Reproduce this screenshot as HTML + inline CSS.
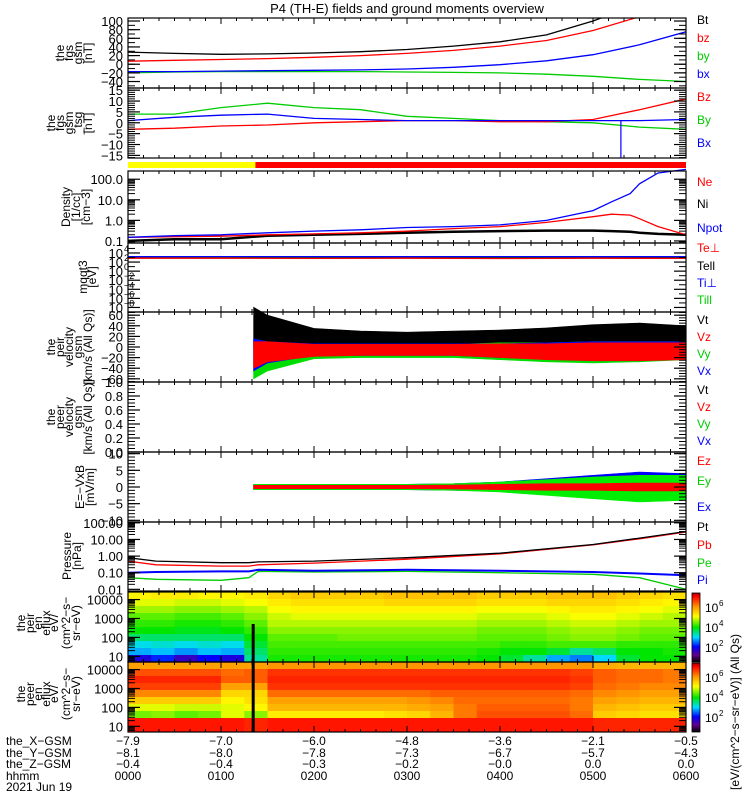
<!DOCTYPE html>
<html><head><meta charset="utf-8">
<style>
html,body{margin:0;padding:0;background:#fff;}
svg{display:block;font-family:"Liberation Sans",sans-serif;}
</style></head>
<body>
<svg id="chart" width="750" height="800" viewBox="0 0 750 800" xmlns="http://www.w3.org/2000/svg">
<defs>
<clipPath id="clipAll"><rect x="128" y="18" width="558" height="715"/></clipPath>
<linearGradient id="cbar" x1="0" y1="1" x2="0" y2="0">
<stop offset="0" stop-color="#000"/><stop offset="0.1" stop-color="#64008c"/>
<stop offset="0.22" stop-color="#0000ff"/><stop offset="0.36" stop-color="#00dcff"/>
<stop offset="0.5" stop-color="#00e600"/><stop offset="0.66" stop-color="#ffff00"/>
<stop offset="0.8" stop-color="#ff9600"/><stop offset="0.95" stop-color="#ff0000"/>
<stop offset="1" stop-color="#a00000"/></linearGradient>
</defs>
<text x="407" y="13" font-size="13" text-anchor="middle">P4 (TH-E) fields and ground moments overview</text>
<g id="g"></g>
</svg>
<script>
// ---------- data ----------
const tHalf = [0,0.5,1,1.5,2,2.5,3,3.5,4,4.5,5,5.5,6];
const bt = [28,25,23,24,26,29,34,42,52,68,100,140,180];
const bz = [7,9,11,13,16,20,25,32,42,55,78,110,150];
const bx = [-17,-17,-16,-15,-14,-13,-11,-7,-1,8,22,45,75];
const byv = [-20,-18,-17,-17,-17,-17,-18,-19,-20,-23,-28,-35,-40];
const dBz = [-3,-2.5,-1.5,-1,0,0.5,1,1,0.5,0.5,1.5,6,11];
const dBx = [1,2.5,3.5,4,2,1.5,1,1,1,1,1,1,1.5];
const dBy = [4,4,7,9,7,6,3,2,1,0.5,0,-2,-3];
const spikeT = [5.3];
const spikeBx = [-16];
const tDen = [0,0.5,1,1.5,2,2.5,3,3.5,4,4.5,5,5.2,5.4,5.5,5.7,6];
const ne = [0.15,0.16,0.17,0.2,0.22,0.25,0.3,0.4,0.5,0.8,1.5,2,1.8,1.2,0.5,0.2];
const ni = [0.1,0.12,0.12,0.18,0.2,0.22,0.25,0.28,0.3,0.32,0.32,0.3,0.28,0.25,0.22,0.2];
const npot = [0.15,0.18,0.2,0.25,0.3,0.35,0.45,0.5,0.6,1,3,8,20,60,200,300];
const tTemp = [0,1,2,3,4,5,6];
const tePerp = [700,700,650,700,600,700,650];
const tePar = [800,800,750,800,750,800,750];
const tiPerp = [1500,1600,1600,1500,1600,1500,1500];
const tiPar = [1300,1400,1400,1300,1400,1300,1300];
const tV = [1.35,1.5,2,2.5,3,3.5,4,4.5,5,5.5,6];
const vtMax = [75,60,35,30,28,30,32,36,42,45,40];
const vtMin = [0,3,3,3,3,3,3,3,3,3,3];
const vyMax = [15,10,5,5,5,5,8,8,10,10,10];
const vyMin = [-60,-45,-22,-20,-20,-20,-24,-28,-30,-28,-24];
const vxMax = [15,10,6,6,6,6,6,8,10,10,10];
const vxMin = [-45,-30,-16,-16,-16,-16,-20,-22,-24,-24,-22];
const vzMax = [10,10,5,5,5,5,6,6,8,8,8];
const vzMin = [-40,-28,-18,-16,-16,-16,-20,-24,-26,-26,-24];
const tE = [1.35,2,3,3.5,4,4.5,5,5.5,6];
const eyMax = [0.8,0.8,0.8,1,1.5,2.2,3,3.5,3.5];
const eyMin = [-0.8,-0.8,-0.8,-1,-1.5,-2.5,-3.5,-4.5,-4];
const exMax = [0.8,0.8,0.8,1,1.5,2.5,3.5,4.5,4];
const exMin = [-0.8,-0.8,-0.8,-1,-1.3,-2,-2.5,-3,-2.5];
const ezMax = [0.5,0.5,0.5,0.6,0.8,1,1,1.2,1.2];
const ezMin = [-0.5,-0.5,-0.5,-0.6,-0.8,-1,-1,-1.2,-1.2];
const tP = [0,0.3,1,1.3,1.4,2,3,4,5,5.5,6];
const pt = [0.8,0.5,0.4,0.4,0.45,0.5,0.8,1.5,5,12,30];
const pb = [0.5,0.3,0.25,0.25,0.3,0.38,0.65,1.35,4.7,11,28];
const pe = [0.05,0.04,0.035,0.05,0.12,0.11,0.12,0.1,0.08,0.05,0.01];
const pi = [0.1,0.11,0.12,0.12,0.15,0.13,0.15,0.13,0.11,0.09,0.07];
const ionRows = [
[5.2,5.3,5.3,5.2,5.2,5.3,5.5,5.6,5.6,5.6,5.6,5.7,5.7,5.7,5.7,5.6,5.6,5.6,5.7,5.7,5.7,5.6,5.5,5.4],
[5.0,5.0,4.9,4.9,5.0,5.1,5.3,5.4,5.4,5.4,5.4,5.5,5.5,5.5,5.5,5.4,5.4,5.4,5.5,5.5,5.5,5.4,5.3,5.2],
[4.7,4.7,4.6,4.6,4.7,4.8,5.1,5.2,5.2,5.2,5.2,5.2,5.2,5.2,5.2,5.1,5.1,5.1,5.2,5.3,5.3,5.2,5.1,5.0],
[4.4,4.4,4.3,4.3,4.4,4.6,4.9,5.0,5.0,5.0,5.0,5.0,5.0,5.0,5.0,4.9,4.9,4.9,5.0,5.1,5.1,5.0,4.9,4.8],
[4.2,4.2,4.1,4.1,4.2,4.4,4.8,4.8,4.8,4.8,4.8,4.8,4.8,4.8,4.8,4.7,4.7,4.7,4.8,4.9,4.9,4.8,4.7,4.7],
[4.0,4.0,3.9,3.9,4.0,4.2,4.6,4.6,4.6,4.6,4.6,4.6,4.6,4.6,4.6,4.5,4.5,4.5,4.6,4.7,4.7,4.6,4.5,4.5],
[3.6,3.6,3.6,3.6,3.6,4.0,4.4,4.4,4.4,4.5,4.5,4.5,4.5,4.5,4.5,4.4,4.4,4.4,4.5,4.6,4.6,4.5,4.4,4.4],
[3.1,3.2,3.1,3.2,3.1,3.8,4.3,4.3,4.3,4.3,4.3,4.3,4.3,4.3,4.3,4.3,4.2,4.2,4.3,4.3,4.3,4.2,4.2,4.2],
[2.8,2.9,2.7,2.9,2.8,3.6,4.2,4.2,4.2,4.2,4.2,4.2,4.2,4.2,4.2,4.1,4.0,4.0,3.8,3.4,3.6,4.0,4.0,4.1],
[1.8,2.2,1.6,2.0,1.8,3.4,4.1,4.1,4.1,4.1,4.1,4.1,4.1,4.1,4.1,4.0,3.8,3.4,2.8,2.6,3.0,3.8,4.0,4.0]];
const eleRows = [
[6.0,6.0,6.0,6.0,6.0,6.0,6.1,6.1,6.1,6.1,6.1,6.1,6.1,6.1,6.1,6.1,6.1,6.1,6.1,6.1,5.9,5.8,5.8,5.8],
[6.6,6.6,6.6,6.6,6.4,6.5,6.8,6.8,6.8,6.8,6.8,6.8,6.8,6.8,6.8,6.8,6.8,6.8,6.8,6.7,6.5,6.4,6.4,6.3],
[6.9,6.9,6.9,6.9,6.5,6.5,6.9,6.9,6.9,6.9,6.9,6.9,6.9,6.9,6.9,6.9,6.9,6.9,6.9,6.8,6.5,6.4,6.4,6.3],
[6.7,6.7,6.7,6.7,6.0,6.0,6.8,6.8,6.8,6.8,6.8,6.8,6.8,6.8,6.8,6.8,6.8,6.8,6.8,6.7,6.4,6.3,6.2,6.2],
[6.2,6.2,6.2,6.2,5.5,5.5,6.4,6.4,6.4,6.4,6.4,6.4,6.4,6.5,6.5,6.5,6.5,6.5,6.5,6.4,6.2,6.1,6.0,6.0],
[5.6,5.6,5.6,5.6,5.2,5.4,6.0,6.0,6.0,6.0,6.0,6.0,6.1,6.2,6.4,6.4,6.4,6.4,6.4,6.3,6.0,5.9,5.8,5.8],
[5.0,5.0,4.9,4.9,5.0,5.2,5.8,5.8,5.8,5.8,5.8,5.8,5.9,6.0,6.3,6.5,6.5,6.5,6.5,6.3,5.8,5.7,5.6,5.6],
[4.5,4.6,4.4,4.5,5.0,4.6,5.3,5.3,5.3,5.3,5.3,5.4,5.5,5.8,6.3,6.6,6.6,6.6,6.6,6.4,5.6,5.5,5.4,5.4],
[7.0,7.0,7.0,7.0,7.0,6.9,7.0,7.0,7.0,7.0,7.0,7.0,7.0,7.0,7.0,7.0,7.0,7.0,7.0,7.0,6.9,6.9,6.9,6.9],
[7.0,7.0,7.0,7.0,7.0,6.9,7.0,7.0,7.0,7.0,7.0,7.0,7.0,7.0,7.0,7.0,7.0,7.0,7.0,7.0,6.9,6.9,6.9,6.9]];
const specStep = 0.25;
const xLabelsX = ["-7.9","-7.0","-6.0","-4.8","-3.6","-2.1","-0.5"];
const xLabelsY = ["-8.1","-8.0","-7.8","-7.3","-6.7","-5.7","-4.3"];
const xLabelsZ = ["-0.4","-0.4","-0.3","-0.2","-0.0","0.0","0.0"];
const xLabelsT = ["0000","0100","0200","0300","0400","0500","0600"];

// ---------- helpers ----------
const NS = "http://www.w3.org/2000/svg";
const G = document.getElementById('g');
function mk(tag, attrs, parent){ const e=document.createElementNS(NS,tag); for(const k in attrs) e.setAttribute(k,attrs[k]); (parent||G).appendChild(e); return e; }
const X0=128, X1=686;
function xs(t){ return X0 + t/6*(X1-X0); }
function linY(top,bot,vmin,vmax){ return v => bot - (v-vmin)/(vmax-vmin)*(bot-top); }
function logY(top,bot,lmin,lmax){ return v => bot - (Math.log10(v)-lmin)/(lmax-lmin)*(bot-top); }
const clipG = mk('g',{'clip-path':'url(#clipAll)'});



function line(ts, vs, ys, color, name){
  let d=''; ts.forEach((t,i)=>{ d += (i?'L':'M')+xs(t).toFixed(1)+','+ys(vs[i]).toFixed(1); });
  const p = mk('path',{d:d,fill:'none',stroke:color,'stroke-width':1.3},clipG);
  
  
  return p;
}
function band(ts, lo, hi, ys, color, name){
  let d=''; ts.forEach((t,i)=>{ d += (i?'L':'M')+xs(t).toFixed(1)+','+ys(hi[i]).toFixed(1); });
  for(let i=ts.length-1;i>=0;i--) d += 'L'+xs(ts[i]).toFixed(1)+','+ys(lo[i]).toFixed(1);
  const p = mk('path',{d:d+'Z',fill:color,stroke:color,'stroke-width':0.6},clipG);
  
  
}
function panelFrame(top,bot,name){
  const r = mk('rect',{x:X0,y:top,width:X1-X0,height:bot-top,fill:'none',stroke:'#000','stroke-width':1.2});
  
  
  for(let m=0;m<=360;m+=10){
    const x=xs(m/60), L = (m%60===0)?6:3;
    mk('line',{x1:x,y1:top,x2:x,y2:top+L,stroke:'#000','stroke-width':1});
    mk('line',{x1:x,y1:bot,x2:x,y2:bot-L,stroke:'#000','stroke-width':1});
  }
}
function yTicks(ys, majors, labels, minors, name){
  majors.forEach((v,i)=>{
    const y=ys(v);
    mk('line',{x1:X0,y1:y,x2:X0+12,y2:y,stroke:'#000','stroke-width':1.2});
    mk('line',{x1:X1,y1:y,x2:X1-12,y2:y,stroke:'#000','stroke-width':1.2});
    const t = mk('text',{x:123,y:y+5,'font-size':13,'text-anchor':'end'});
    t.textContent = labels[i];
    
    
  });
  minors.forEach(v=>{
    const y=ys(v);
    mk('line',{x1:X0,y1:y,x2:X0+7,y2:y,stroke:'#000','stroke-width':1});
    mk('line',{x1:X1,y1:y,x2:X1-7,y2:y,stroke:'#000','stroke-width':1});
  });
}
function rng(a,b,s){ const r=[]; for(let v=a; v<=b+1e-9; v+=s) r.push(+v.toFixed(6)); return r; }
function logMinors(a,b){ const r=[]; for(let e=a;e<b;e++) for(let k=2;k<10;k++) r.push(k*Math.pow(10,e)); return r; }
function yTitle(lines, xs_, cy, name){
  lines.forEach((s,i)=>{
    const t = mk('text',{x:xs_[i],y:cy,'font-size':12,'text-anchor':'middle',transform:`rotate(-90 ${xs_[i]} ${cy})`});
    t.textContent = s;
    
    
  });
}
function rLabels(items, name){
  items.forEach(([s,y,c])=>{
    const t = mk('text',{x:697,y:y,'font-size':12,fill:c});
    t.textContent = s;
    
    
  });
}
const cstops=[[0,0,0,0],[0.1,100,0,140],[0.22,0,0,255],[0.36,0,220,255],[0.5,0,230,0],[0.66,255,255,0],[0.8,255,150,0],[0.95,255,0,0],[1,170,0,0]];
function cmap(v){
  let f=(v-0.5)/7; f=Math.max(0,Math.min(1,f));
  for(let i=1;i<cstops.length;i++){ if(f<=cstops[i][0]){ const a=cstops[i-1],b=cstops[i],u=(f-a[0])/(b[0]-a[0]);
    return `rgb(${Math.round(a[1]+u*(b[1]-a[1]))},${Math.round(a[2]+u*(b[2]-a[2]))},${Math.round(a[3]+u*(b[3]-a[3]))})`; } }
  return 'rgb(170,0,0)';
}
function heat(rows, top, bot, name){
  const nr=rows.length, h=(bot-top)/nr;
  rows.forEach((row,r)=>row.forEach((v,c)=>{
    const x=xs(c*specStep), w=xs((c+1)*specStep)-x;
    const e = mk('rect',{x:x.toFixed(2),y:(top+r*h).toFixed(2),width:(w+0.5).toFixed(2),height:(h+0.5).toFixed(2),fill:cmap(v)},clipG);
    
    
  }));
}

// ---------- panel 1 ----------
let y1 = linY(18,88,-55,107);
line(tHalf,bt,y1,'#000','bt-line');
line(tHalf,bz,y1,'#f00','bz-line');
line(tHalf,byv,y1,'#0c0','by-line');
line(tHalf,bx,y1,'#00f','bx-line');
panelFrame(18,88,'fgs-gsm-panel');
yTicks(y1,rng(-40,100,20),["−40","−20","0","20","40","60","80","100"],rng(-50,100,10),'fgs-gsm');
yTitle(["the","fgs","gsm","[nT]"],[64,73,82,92],53,'fgs-gsm');
rLabels([["Bt",24,'#000'],["bz",42,'#f00'],["by",60,'#0c0'],["bx",78,'#00f']],'fgs-gsm');

// ---------- panel 2 ----------
let y2 = linY(88,158,-16.2,16);
line(tHalf,dBy,y2,'#0c0','dby-line');
line(tHalf,dBz,y2,'#f00','dbz-line');
line(tHalf,dBx,y2,'#00f','dbx-line');
spikeT.forEach((t,i)=>{ const s=mk('line',{x1:xs(t),y1:y2(1),x2:xs(t),y2:y2(spikeBx[i]),stroke:'#00f','stroke-width':1.2},clipG);
    });
panelFrame(88,158,'fgs-dsl-panel');
yTicks(y2,rng(-15,15,5),["−15","−10","−5","0","5","10","15"],rng(-16,15,1),'fgs-dsl');
yTitle(["the","fgs","gsm","_tsg","[nT]"],[55,64,73,82,92],123,'fgs-dsl');
rLabels([["Bz",101,'#f00'],["By",124,'#0c0'],["Bx",147,'#00f']],'fgs-dsl');

// ---------- mode bar ----------
{ const a=mk('rect',{x:X0,y:162,width:xs(1.37)-X0,height:6,fill:'#ffff00'});  
  const b=mk('rect',{x:xs(1.37),y:162,width:X1-xs(1.37),height:6,fill:'#ff0000'});   }

// ---------- panel 3 ----------
let y3 = logY(171,243,-1.1,2.4);
line(tDen,ni,y3,'#000','ni-line').setAttribute('stroke-width',2.5);
line(tDen,ne,y3,'#f00','ne-line');
line(tDen,npot,y3,'#00f','npot-line');
panelFrame(171,243,'density-panel');
yTicks(y3,[0.1,1,10,100],["0.1","1.0","10.0","100.0"],logMinors(-1,2).concat([0.09,0.08]),'density');
yTitle(["Density","[1/cc]","[cm−3]"],[70,80,90],207,'density');
rLabels([["Ne",186,'#f00'],["Ni",208,'#000'],["Npot",232,'#00f']],'density');

// ---------- panel 4 ----------
let y4 = logY(243,312,-9,6.2);
line(tTemp,tiPar,y4,'#0c0','ti-par-line');
line(tTemp,tiPerp,y4,'#00f','ti-perp-line');
line(tTemp,tePar,y4,'#000','te-par-line');
line(tTemp,tePerp,y4,'#f00','te-perp-line');
panelFrame(243,312,'temperature-panel');
{ const ex=[4,2,0,-2,-4,-6,-8];
  yTicks(y4,ex.map(e=>Math.pow(10,e)),ex.map(e=>"10"),[1e5,1e3,1e1,1e-1,1e-3,1e-5,1e-7],'temperature');
  ex.forEach(e=>{ const t=mk('text',{x:124,y:y4(Math.pow(10,e))-1,'font-size':9}); t.textContent=String(e).replace('-','−');
      }); }
yTitle(["mqqt3","[eV]"],[87,96],277,'temperature');
rLabels([["Te⊥",252,'#f00'],["Tell",270,'#000'],["Ti⊥",287,'#00f'],["Till",304,'#0c0']],'temperature');

// ---------- panel 5 ----------
let y5 = linY(312,382,-66,66);
band(tV,vtMin,vtMax,y5,'#000','vt-band');
band(tV,vyMin,vyMax,y5,'#0d0','vy-band');
band(tV,vxMin,vxMax,y5,'#00f','vx-band');
band(tV,vzMin,vzMax,y5,'#f00','vz-band');
panelFrame(312,382,'ion-velocity-panel');
yTicks(y5,rng(-60,60,20),["−60","−40","−20","0","20","40","60"],rng(-65,65,5),'ion-velocity');
yTitle(["the","peir","velocity","gsm","[km/s (All Qs)]"],[55,64,73,82,92],347,'ion-velocity');
rLabels([["Vt",324,'#000'],["Vz",341,'#f00'],["Vy",358,'#0c0'],["Vx",375,'#00f']],'ion-velocity');

// ---------- panel 6 ----------
let y6 = linY(382,452,0,1);
panelFrame(382,452,'electron-velocity-panel');
yTicks(y6,rng(0,1,0.2),["0.0","0.2","0.4","0.6","0.8","1.0"],rng(0,1,0.05),'electron-velocity');
yTitle(["the","peer","velocity","gsm","[km/s (All Qs)]"],[55,64,73,82,92],417,'electron-velocity');
rLabels([["Vt",394,'#000'],["Vz",411,'#f00'],["Vy",428,'#0c0'],["Vx",445,'#00f']],'electron-velocity');

// ---------- panel 7 ----------
let y7 = linY(452,522,-10.5,10.5);
band(tE,exMin,exMax,y7,'#00f','ex-band');
band(tE,eyMin,eyMax,y7,'#0e0','ey-band');
band(tE,ezMin,ezMax,y7,'#f00','ez-band');
panelFrame(452,522,'efield-panel');
yTicks(y7,rng(-10,10,5),["−10","−5","0","5","10"],rng(-10,10,1),'efield');
yTitle(["E=−VxB","[mV/m]"],[84,94],487,'efield');
rLabels([["Ez",465,'#f00'],["Ey",485,'#0c0'],["Ex",511,'#00f']],'efield');

// ---------- panel 8 ----------
let y8 = logY(522,591,-2.1,2.05);
line(tP,pe,y8,'#0c0','pe-line');
line(tP,pi,y8,'#00f','pi-line').setAttribute('stroke-width',2);
line(tP,pb,y8,'#f00','pb-line');
line(tP,pt,y8,'#000','pt-line');
panelFrame(522,591,'pressure-panel');
yTicks(y8,[0.01,0.1,1,10,100],["0.01","0.10","1.00","10.00","100.00"],logMinors(-2,2),'pressure');
yTitle(["Pressure","[nPa]"],[71,81],556,'pressure');
rLabels([["Pt",531,'#000'],["Pb",549,'#f00'],["Pe",567,'#0c0'],["Pi",584,'#00f']],'pressure');

// ---------- panel 9 ----------
let y9 = logY(592,662,0.7,4.4);
heat(ionRows,592,662,'ion-spectrogram');
{ const b=mk('rect',{x:xs(1.33),y:624,width:3,height:38,fill:'#000'},clipG);   }
panelFrame(592,662,'ion-spectrogram-panel');
yTicks(y9,[10,100,1000,10000],["10","100","1000","10000"],logMinors(0,4).filter(v=>v>5&&v<25000),'ion-spectrogram');
yTitle(["the","peir","en","eflux","eV/","(cm^2−s−","sr−eV)"],[25,34,42,50,58,70,80],623,'ion-spectrogram');

// ---------- panel 10 ----------
let y10 = logY(662,732,0.7,4.4);
heat(eleRows,662,732,'electron-spectrogram');
{ const b=mk('rect',{x:xs(1.33),y:662,width:3,height:70,fill:'#000'},clipG);   }
panelFrame(662,732,'electron-spectrogram-panel');
yTicks(y10,[10,100,1000,10000],["10","100","1000","10000"],logMinors(0,4).filter(v=>v>5&&v<25000),'electron-spectrogram');
yTitle(["the","peer","en","eflux","eV/","(cm^2−s−","sr−eV)"],[25,34,42,50,58,70,80],694,'electron-spectrogram');

// ---------- colorbars ----------
[[592,'ion'],[662,'electron']].forEach(([top,nm])=>{
  const r=mk('rect',{x:692,y:top+1,width:8,height:69,fill:'url(#cbar)',stroke:'#000','stroke-width':0.8});
  
  
  [2,4,6].forEach(e=>{
    const yy = top+70-(e-0.5)/7*70;
    const t=mk('text',{x:705,y:yy+5,'font-size':12}); t.textContent='10';
     
    const s=mk('text',{x:719,y:yy-1,'font-size':8}); s.textContent=String(e);
     
  });
});
{ const t=mk('text',{x:739,y:790,'font-size':12,transform:'rotate(-90 739 790)'});
  t.textContent='[eV/(cm^2−s−sr−eV)] (All Qs)';
    }

// ---------- bottom labels ----------
[["the_X−GSM",xLabelsX,745],["the_Y−GSM",xLabelsY,757],["the_Z−GSM",xLabelsZ,768],["hhmm",xLabelsT,780]].forEach(([lab,arr,y])=>{
  const t=mk('text',{x:6,y:y,'font-size':12}); t.textContent=lab;
   
  arr.forEach((s,i)=>{ const u=mk('text',{x:xs(i),y:y,'font-size':12,'text-anchor':'middle'}); u.textContent=s.replace('-','−');
      });
});
{ const t=mk('text',{x:6,y:791,'font-size':12}); t.textContent='2021 Jun 19';
    }
</script>
</body></html>
